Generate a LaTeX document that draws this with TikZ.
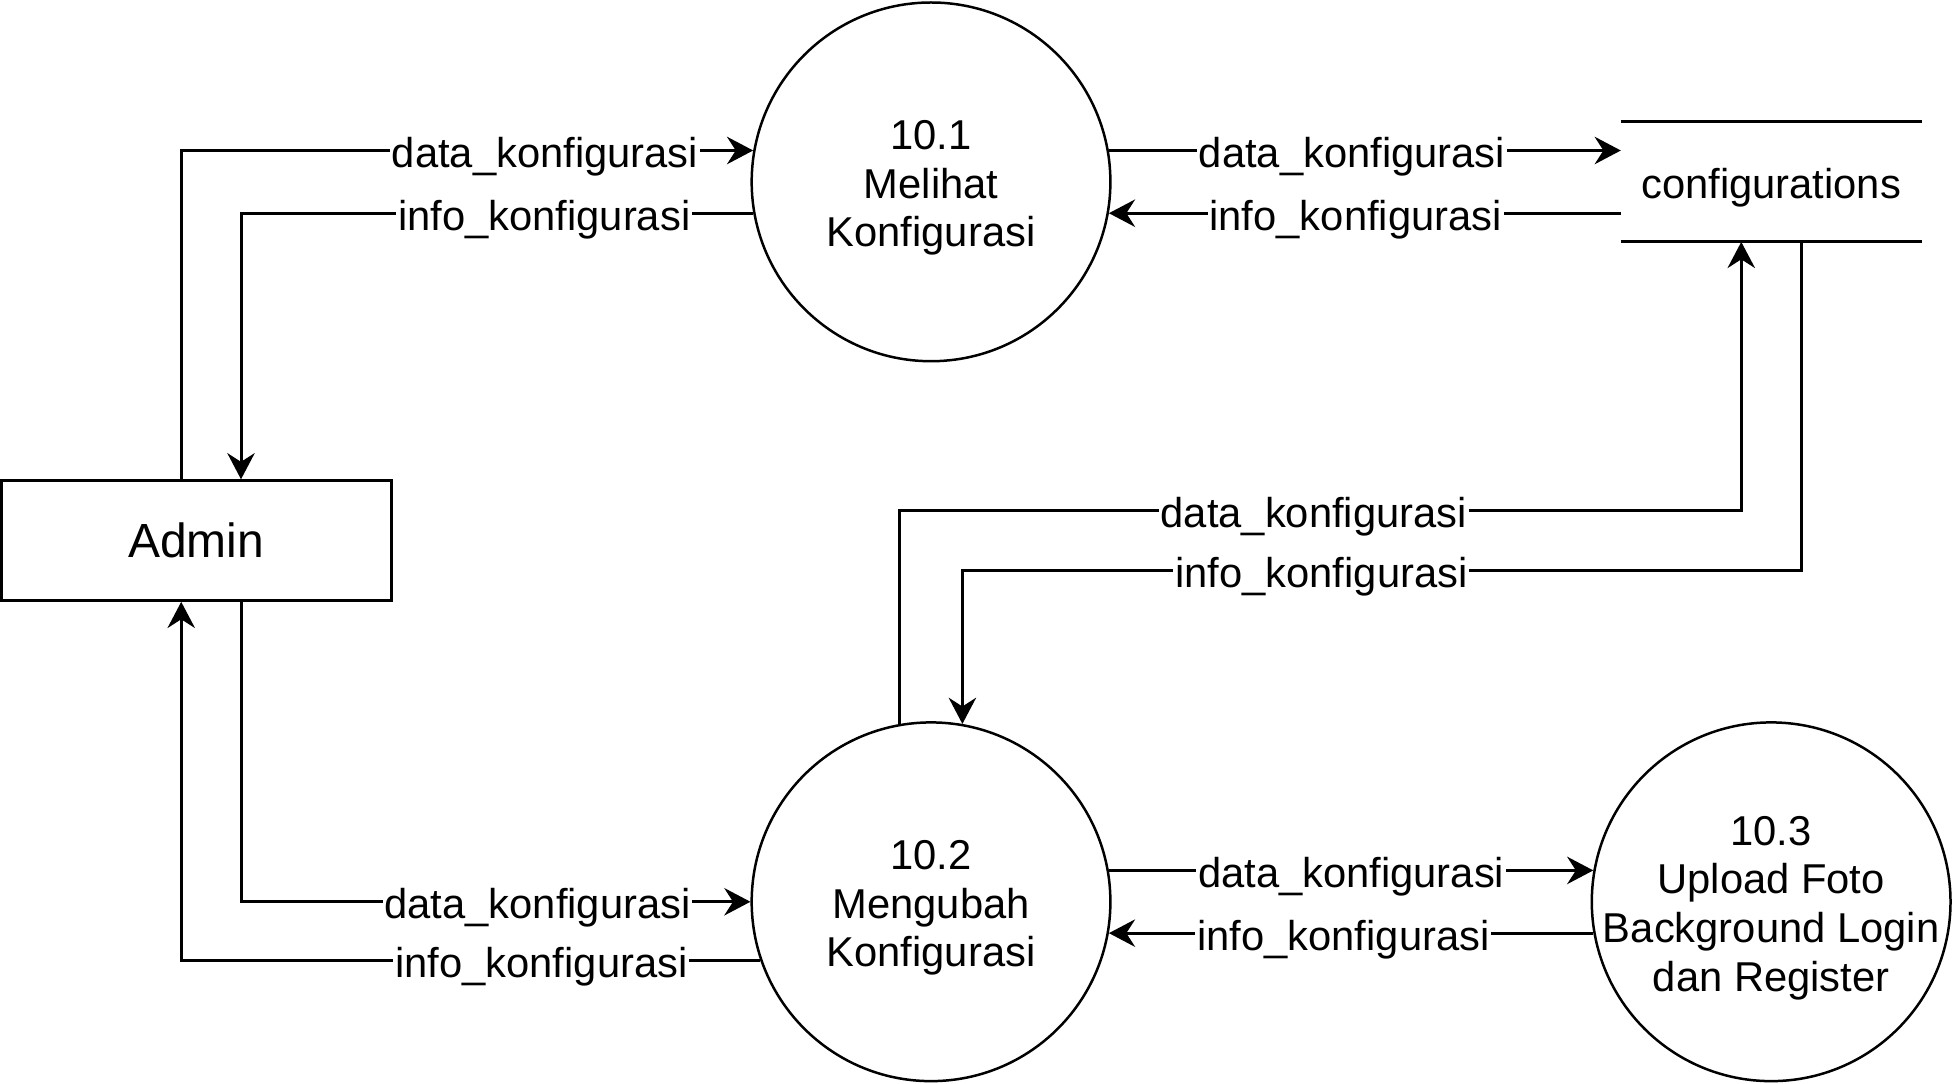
\documentclass[tikz,border=0pt]{standalone}
\usepackage{fontspec}
\setmainfont{Liberation Sans}
\usetikzlibrary{arrows.meta}
\tikzset{
    every node/.style={inner sep=0mm, font=\fontsize{33.5}{39}\selectfont}
}
\tikzset{
    process/.style={circle, draw, line width=2pt, minimum size=288pt},
    every label/.style={align=center, yshift=-5pt},
    entity/.style={rectangle, draw, line width=2.4pt, minimum width=313pt, minimum height=96pt, font=\fontsize{38.5}{45}\selectfont},
    datastore/.style={rectangle, minimum width=241pt, minimum height=96pt},
    lbl/.style={fill=white, inner sep=1.5pt, yshift=-5pt},
    flow/.style={line width=2.4pt, -{Stealth[length=21pt, width=22pt, inset=7pt]}}
}

\begin{document}
\begin{tikzpicture}[x=1pt, y=-1pt]
    \useasboundingbox (0,0) rectangle (1568,870);
    \node (p1) [process, label=center:{10.1\\Melihat\\Konfigurasi}] at (747.5,146) {};
    \node (p2) [process, label=center:{10.2\\Mengubah\\Konfigurasi}] at (747.5,724) {};
    \node (p3) [process, label=center:{10.3\\Upload Foto\\Background Login\\dan Register}] at (1422,724) {};
    \node (admin) [entity] at (157.5,434) {Admin};
    \node (store) [datastore, label=center:configurations] at (1422,146) {};
    \draw[line width=2.4pt] (store.north west) -- (store.north east);
    \draw[line width=2.4pt] (store.south west) -- (store.south east);

    % admin <-> 10.1
    \draw[flow] ([xshift=-12pt]admin.north) |- node[lbl, pos=0.818] {data\_konfigurasi} (p1.170);
    \draw[flow] (p1.190) -| node[lbl, pos=0.204] {info\_konfigurasi} ([xshift=36pt]admin.north);
    % 10.1 <-> configurations
    \draw[flow] (p1.10) -- node[lbl, pos=0.475] {data\_konfigurasi} (p1.10 -| store.west);
    \draw[flow] (p1.350 -| store.west) -- node[lbl, pos=0.518] {info\_konfigurasi} (p1.350);
    % 10.2 <-> configurations
    \draw[flow] (p2.100) -- ++(0,-171) -| node[lbl, pos=0.246] {data\_konfigurasi} ([xshift=-24pt]store.south);
    \draw[flow] ([xshift=24pt]store.south) -- ++(0,264) -| node[lbl, pos=0.286] {info\_konfigurasi} (p2.80);
    % admin <-> 10.2
    \draw[flow] ([xshift=36pt]admin.south) |- node[lbl, pos=0.791] {data\_konfigurasi} (p2.west);
    \draw[flow] (p2.199) -| node[lbl, pos=0.189] {info\_konfigurasi} ([xshift=-12pt]admin.south);
    % 10.2 <-> 10.3
    \draw[flow] (p2.10) -- node[lbl, pos=0.5] {data\_konfigurasi} (p3.170);
    \draw[flow] (p3.190) -- node[lbl, pos=0.516] {info\_konfigurasi} (p2.350);
\end{tikzpicture}
\end{document}
